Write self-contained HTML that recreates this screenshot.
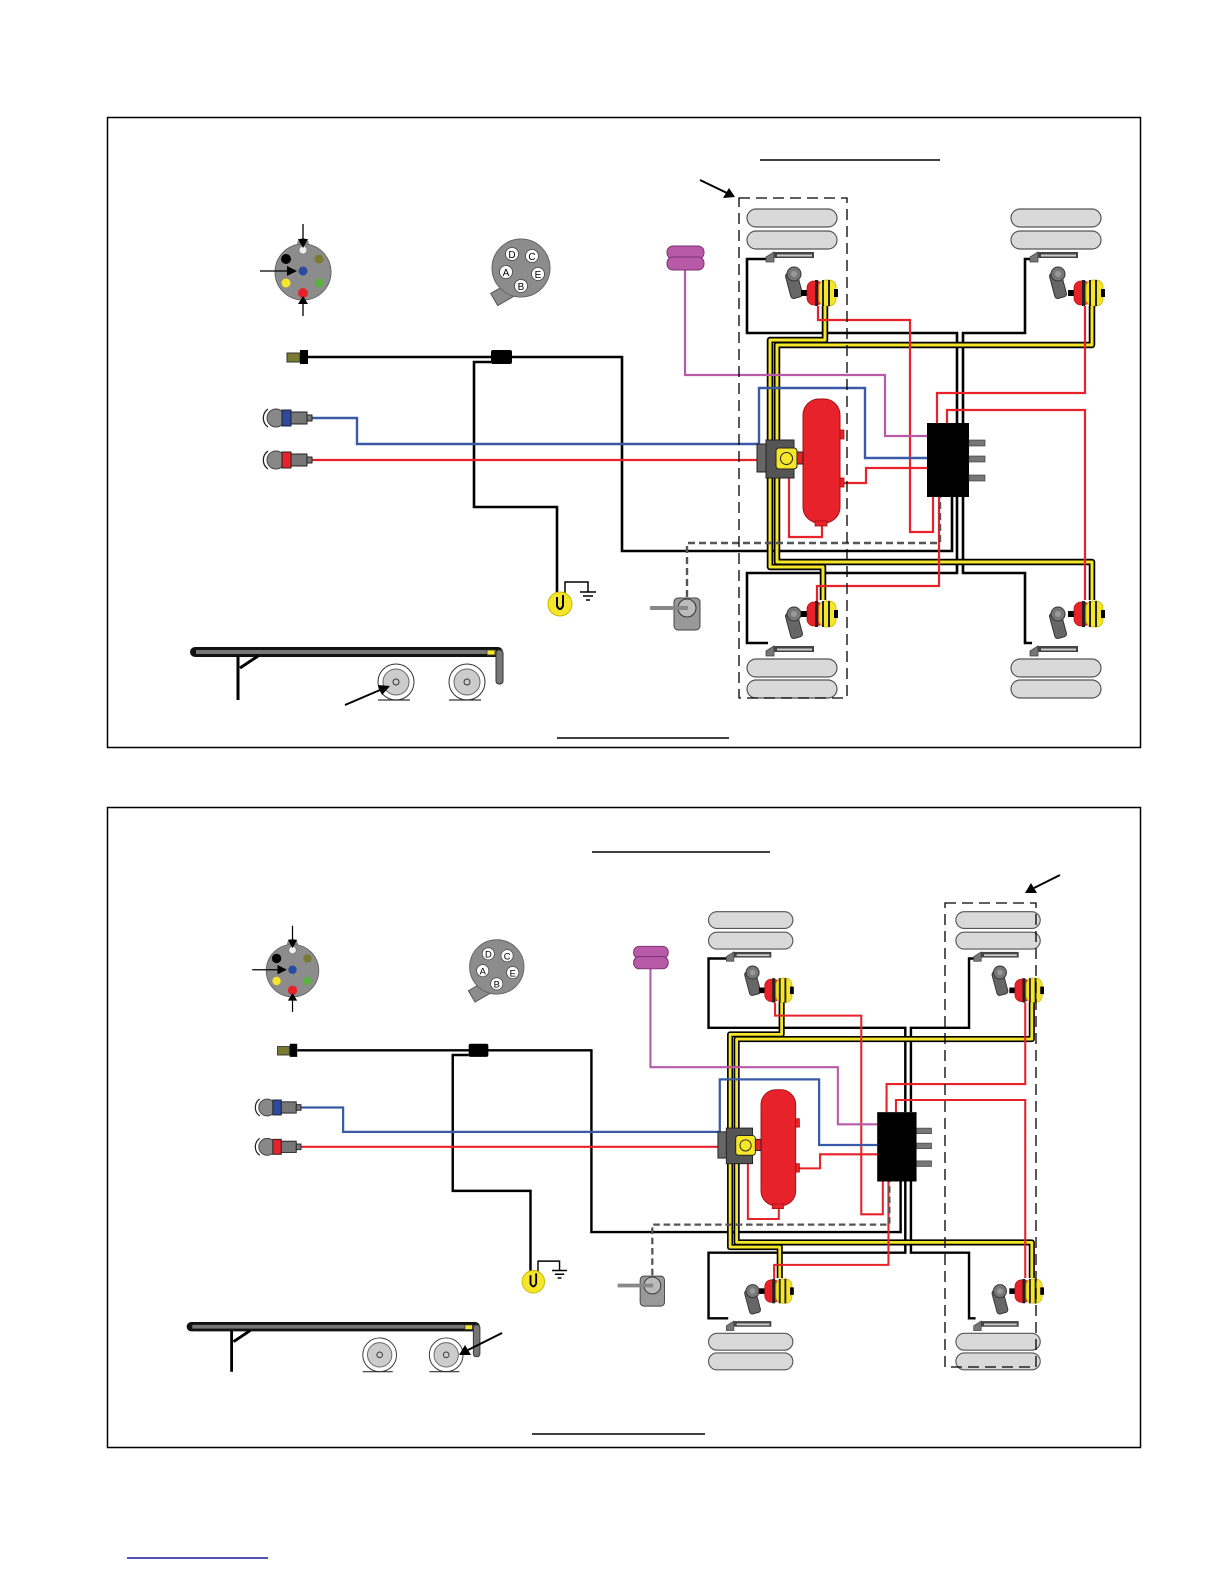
<!DOCTYPE html>
<html><head><meta charset="utf-8"><style>
html,body{margin:0;padding:0;background:#fff}
svg{display:block}
.k{fill:none;stroke:#000;stroke-width:2.6;stroke-linejoin:miter}
.r{fill:none;stroke:#e8222a;stroke-width:2.2}
.b{fill:none;stroke:#3a5aa8;stroke-width:2.4}
.p{fill:none;stroke:#b85aa8;stroke-width:2.2}
.yb{fill:none;stroke:#000;stroke-width:6.5;stroke-linejoin:round}
.yy{fill:none;stroke:#f5e62a;stroke-width:3;stroke-linejoin:round}
.tire{fill:#d9d9d9;stroke:#555;stroke-width:1.2}
.pl{font-family:"Liberation Sans",sans-serif;font-size:10px;fill:#000;text-anchor:middle}
</style></head><body>
<svg width="1224" height="1584" viewBox="0 0 1224 1584" xmlns="http://www.w3.org/2000/svg">
<defs>
<path id="Y1" d="M770,440 V340 H825 V306"/>
<path id="Y2" d="M777,440 V345 H1092 V306"/>
<path id="Y3" d="M770,478 V567 H823 V600"/>
<path id="Y4" d="M777,478 V562 H1092 V600"/>
<g id="chU">
 <rect x="-6" y="10" width="7" height="6" fill="#000"/>
 <rect x="0" y="1" width="16" height="24" rx="7" fill="#e8222a" stroke="#c01010" stroke-width="0.8"/>
 <rect x="12" y="0" width="17" height="26" rx="7" fill="#f5e62a" stroke="#c9b800" stroke-width="0.8"/>
 <rect x="8" y="0" width="3" height="26" fill="#222"/>
 <rect x="15" y="0" width="2" height="26" fill="#222"/>
 <rect x="21" y="0" width="2" height="26" fill="#222"/>
 <rect x="27" y="9" width="4" height="8" fill="#000"/>
</g>
<g id="slack">
 <rect x="2" y="6" width="12" height="26" rx="3" fill="#666" stroke="#333" transform="rotate(-15 8 19)"/>
 <circle cx="8" cy="8" r="7" fill="#777" stroke="#333"/>
 <circle cx="8" cy="8" r="3" fill="#999"/>
</g>
<g id="sens">
 <rect x="8" y="0" width="40" height="6" fill="#444"/>
 <rect x="11" y="2.5" width="35" height="2" fill="#ccc"/>
 <path d="M0,5 L8,0 V10 H0 Z" fill="#777" stroke="#444" stroke-width="0.8"/>
</g>
<g id="d">
 <rect class="tire" x="747" y="209" width="90" height="18" rx="9"/>
 <rect class="tire" x="747" y="231" width="90" height="18" rx="9"/>
 <rect class="tire" x="747" y="659" width="90" height="18" rx="9"/>
 <rect class="tire" x="747" y="680" width="90" height="18" rx="9"/>
 <rect class="tire" x="1011" y="209" width="90" height="18" rx="9"/>
 <rect class="tire" x="1011" y="231" width="90" height="18" rx="9"/>
 <rect class="tire" x="1011" y="659" width="90" height="18" rx="9"/>
 <rect class="tire" x="1011" y="680" width="90" height="18" rx="9"/>
 <path class="k" d="M768,259 H747 V333 H957 V423"/>
 <path class="k" d="M1032,259 H1025 V333 H963 V423"/>
 <path class="k" d="M957,497 V573 H747 V643 H768"/>
 <path class="k" d="M963,497 V573 H1025 V643 H1032"/>
 <path class="k" d="M308,357 H622 V551 H952 V497"/>
 <path class="k" d="M491,362 H474 V507 H557 V597"/>
 <path class="k" d="M565,603 V582 H588 V592" style="stroke-width:1.5"/>
 <path d="M580,592 H596 M583,596 H593 M586,600 H590" stroke="#000" stroke-width="1.5"/>
 <use href="#sens" x="766" y="252"/>
 <use href="#sens" x="1030" y="252"/>
 <use href="#sens" x="766" y="646"/>
 <use href="#sens" x="1030" y="646"/>
 <use href="#slack" x="786" y="266"/>
 <use href="#slack" x="1050" y="266"/>
 <use href="#slack" x="786" y="606"/>
 <use href="#slack" x="1050" y="606"/>
 <use href="#chU" x="807" y="280"/>
 <use href="#chU" x="1074" y="280"/>
 <use href="#chU" x="807" y="601"/>
 <use href="#chU" x="1074" y="601"/>
 <use href="#Y1" class="yb"/><use href="#Y2" class="yb"/><use href="#Y3" class="yb"/><use href="#Y4" class="yb"/>
 <use href="#Y1" class="yy"/><use href="#Y2" class="yy"/><use href="#Y3" class="yy"/><use href="#Y4" class="yy"/>
 <path class="r" d="M818,306 V320 H910 V532 H933 V497"/>
 <path class="r" d="M1085,306 V393 H937 V423"/>
 <path class="r" d="M947,423 V410 H1085 V600"/>
 <path class="r" d="M817,601 V586 H939 V497"/>
 <path class="r" d="M840,483 H866 V468 H927"/>
 <path class="r" d="M789,478 V537 H822 V523"/>
 <path class="r" d="M312,460 H757"/>
 <path class="p" d="M685,270 V375 H885 V436 H927"/>
 <path class="b" d="M312,418 H357 V444 H759 V388 H865 V458 H927"/>
 <path d="M687,597 V543 H940 V497" fill="none" stroke="#555" stroke-width="2.4" stroke-dasharray="7,4"/>
 <rect x="803" y="399" width="37" height="124" rx="16" fill="#e8222a" stroke="#a01010" stroke-width="1"/>
 <rect x="815" y="521" width="12" height="5" fill="#e8222a" stroke="#a01010" stroke-width="0.8"/>
 <rect x="840" y="430" width="4" height="9" fill="#e8222a" stroke="#a01010" stroke-width="0.8"/>
 <rect x="840" y="478" width="4" height="9" fill="#e8222a" stroke="#a01010" stroke-width="0.8"/>
 <rect x="757" y="444" width="10" height="28" fill="#666" stroke="#222"/>
 <rect x="766" y="440" width="28" height="38" fill="#555" stroke="#222"/>
 <rect x="776" y="448" width="21" height="21" rx="3" fill="#f5e62a" stroke="#222"/>
 <circle cx="786.5" cy="458.5" r="6" fill="none" stroke="#222"/>
 <rect x="797" y="452" width="6" height="12" fill="#e8222a" stroke="#222"/>
 <rect x="927" y="423" width="42" height="74" fill="#000"/>
 <rect x="969" y="440" width="16" height="6" fill="#777" stroke="#333" stroke-width="0.6"/>
 <rect x="969" y="456" width="16" height="6" fill="#777" stroke="#333" stroke-width="0.6"/>
 <rect x="969" y="475" width="16" height="6" fill="#777" stroke="#333" stroke-width="0.6"/>
 <rect x="667" y="246" width="37" height="13" rx="6" fill="#b85aa8" stroke="#7a3070"/>
 <rect x="667" y="257" width="37" height="13" rx="6" fill="#b85aa8" stroke="#7a3070"/>
 <rect x="674" y="598" width="26" height="32" rx="4" fill="#999" stroke="#444"/>
 <circle cx="687" cy="608" r="9" fill="#bbb" stroke="#333"/>
 <rect x="650" y="606" width="38" height="4" fill="#888"/>
 <circle cx="303" cy="244" r="6" fill="#8c8c8c"/>
 <circle cx="303" cy="272" r="28" fill="#8c8c8c" stroke="#666"/>
 <circle cx="303" cy="250" r="4" fill="#eee" stroke="#666" stroke-width="0.6"/>
 <circle cx="286" cy="259" r="5" fill="#000"/>
 <circle cx="319" cy="259" r="4.5" fill="#7a7a30"/>
 <circle cx="303" cy="271" r="4.5" fill="#2c4aa0"/>
 <circle cx="286" cy="283" r="4.5" fill="#f5e62a"/>
 <circle cx="319" cy="283" r="4.5" fill="#5ab040"/>
 <circle cx="303" cy="293" r="5" fill="#e8222a"/>
 <path d="M303,224 V240 M260,271 H288 M303,316 V304" stroke="#000" stroke-width="1.3"/>
 <path d="M298,239 L308,239 L303,248 Z M287,266 L287,276 L297,271 Z M298,304 L308,304 L303,296 Z" fill="#000"/>
 <rect x="493" y="288" width="18" height="14" fill="#8c8c8c" stroke="#555" transform="rotate(-30 502 295)"/>
 <circle cx="521" cy="268" r="29" fill="#8c8c8c" stroke="#666"/>
 <g fill="#fff" stroke="#444" stroke-width="0.8"><circle cx="512" cy="254" r="6.5"/><circle cx="532" cy="256" r="6.5"/><circle cx="506" cy="272" r="6.5"/><circle cx="538" cy="274" r="6.5"/><circle cx="521" cy="286" r="6.5"/></g>
 <rect x="287" y="353" width="13" height="9" fill="#7a7a30" stroke="#333"/>
 <rect x="300" y="350" width="8" height="14" fill="#000"/>
 <rect x="491" y="350" width="21" height="14" rx="2" fill="#000"/>
 <circle cx="560" cy="604" r="12" fill="#f5e62a" stroke="#c9b800"/>
 <path d="M557,597 V606 Q560,612 563,606 V595" fill="none" stroke="#000" stroke-width="2"/>
 <g><circle cx="276" cy="418" r="9" fill="#888" stroke="#444"/><path d="M268,409 A11,11 0 0 0 268,427" fill="none" stroke="#222" stroke-width="1.3"/><rect x="282" y="410" width="9" height="16" fill="#2c4aa0" stroke="#222"/><rect x="291" y="412" width="16" height="12" fill="#777" stroke="#222"/><rect x="307" y="415" width="5" height="6" fill="#777" stroke="#222"/></g>
 <g><circle cx="276" cy="460" r="9" fill="#888" stroke="#444"/><path d="M268,451 A11,11 0 0 0 268,469" fill="none" stroke="#222" stroke-width="1.3"/><rect x="282" y="452" width="9" height="16" fill="#e8222a" stroke="#222"/><rect x="291" y="454" width="16" height="12" fill="#777" stroke="#222"/><rect x="307" y="457" width="5" height="6" fill="#777" stroke="#222"/></g>
 <rect x="190" y="647" width="313" height="10" rx="5" fill="#111"/>
 <rect x="196" y="650" width="300" height="4" fill="#777"/>
 <rect x="496" y="650" width="7" height="34" rx="3" fill="#777" stroke="#333"/>
 <rect x="487" y="650" width="8" height="5" fill="#f5e62a" stroke="#333" stroke-width="0.8"/>
 <path d="M238,656 V700 M240,668 L258,656" stroke="#000" stroke-width="3"/>
 <g fill="#fff" stroke="#333"><circle cx="396" cy="682" r="18"/><circle cx="467" cy="682" r="18"/></g>
 <g fill="#ccc" stroke="#666"><circle cx="396" cy="682" r="13"/><circle cx="467" cy="682" r="13"/></g>
 <g fill="none" stroke="#333"><circle cx="396" cy="682" r="3"/><circle cx="467" cy="682" r="3"/></g>
 <path d="M378,700 H410 M449,700 H481" stroke="#333" stroke-width="1.2"/>
</g>
</defs>

<rect x="107.5" y="117.5" width="1033" height="630" fill="none" stroke="#000" stroke-width="1.5"/>
<rect x="107.5" y="807.5" width="1033" height="640" fill="none" stroke="#000" stroke-width="1.5"/>

<use href="#d"/>
<g class="pl"><text x="512" y="258">D</text><text x="532" y="260">C</text><text x="506" y="276">A</text><text x="538" y="278">E</text><text x="521" y="290">B</text></g>
<rect x="739" y="198" width="108" height="500" fill="none" stroke="#000" stroke-width="1.3" stroke-dasharray="11,6"/>
<path d="M700,180 L727,193" stroke="#000" stroke-width="2"/>
<path d="M735,197 L723,198 L729,188 Z" fill="#000"/>
<path d="M345,705 L380,690" stroke="#000" stroke-width="2"/>
<path d="M390,686 L378,685 L382,695 Z" fill="#000"/>
<path d="M760,160 H940" stroke="#000" stroke-width="1.5"/>
<path d="M557,738 H729" stroke="#000" stroke-width="1.5"/>

<g transform="translate(8.6 715.8) scale(0.937)"><use href="#d"/>
<g class="pl"><text x="512" y="258">D</text><text x="532" y="260">C</text><text x="506" y="276">A</text><text x="538" y="278">E</text><text x="521" y="290">B</text></g>
</g>
<rect x="945" y="903" width="91" height="464" fill="none" stroke="#000" stroke-width="1.3" stroke-dasharray="11,6"/>
<path d="M1060,875 L1034,888" stroke="#000" stroke-width="2"/>
<path d="M1025,893 L1031,883 L1037,893 Z" fill="#000"/>
<path d="M502,1333 L468,1350" stroke="#000" stroke-width="2"/>
<path d="M459,1355 L465,1345 L471,1355 Z" fill="#000"/>
<path d="M592,852 H770" stroke="#000" stroke-width="1.5"/>
<path d="M532,1434 H705" stroke="#000" stroke-width="1.5"/>

<path d="M127,1558 H268" stroke="#1a1a9a" stroke-width="1.5"/>
</svg>
</body></html>
